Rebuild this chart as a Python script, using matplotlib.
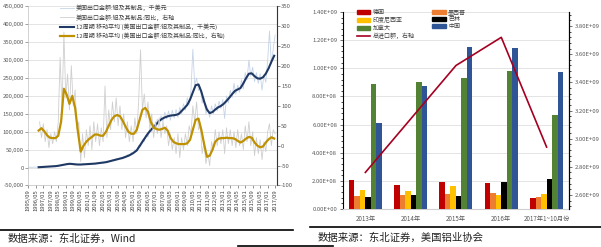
import numpy as np
import pandas as pd
import matplotlib
matplotlib.use("Agg")
import matplotlib.pyplot as plt
from matplotlib.lines import Line2D
from matplotlib.patches import Patch
from matplotlib.ticker import FuncFormatter, MultipleLocator, AutoMinorLocator

plt.rcParams["font.family"] = ["Noto Sans CJK SC", "DejaVu Sans"]
plt.rcParams["axes.unicode_minus"] = False

# ---- 左图: 美国铝及其制品出口 (月度, 1995/09 - 2017/09) ----
# 出口金额, 千美元 (每两个月读一个点, 起点 1995/09)
export_raw = [1000, 1000, 500, 1500, 1000, 2000, 1500, 2000, 1500, 3000, 2500, 3500, 3000, 4000,
              3500, 5000, 4500, 7000, 6000, 9000, 8000, 11000, 10000, 12000, 9000, 11000, 8000,
              9000, 8000, 10000, 9000, 10000, 9000, 11000, 10000, 12000, 10000, 13000, 12000,
              14000, 13000, 16000, 14000, 18000, 17000, 22000, 19000, 25000, 22000, 27000, 24000,
              30000, 27000, 36000, 33000, 42000, 38000, 50000, 45000, 62000, 58000, 78000, 72000,
              92000, 85000, 108000, 100000, 122000, 110000, 135000, 120000, 145000, 128000,
              155000, 135000, 158000, 132000, 160000, 138000, 162000, 140000, 168000, 150000,
              178000, 160000, 195000, 175000, 215000, 330000, 230000, 250000, 215000, 225000,
              180000, 195000, 150000, 165000, 140000, 172000, 150000, 178000, 158000, 185000,
              165000, 190000, 137000, 200000, 180000, 215000, 195000, 235000, 205000, 230000,
              210000, 245000, 220000, 265000, 245000, 300000, 255000, 280000, 240000, 265000,
              235000, 262000, 216000, 258000, 238000, 300000, 381000, 290000, 330000, 370000]
# 出口金额同比, % (每两个月, 起点 1996/09)
yoy_raw = [60, 20, 55, 10, 40, -5, 30, 5, 35, 10, 60, 222, 90, 285, 120, 180, 90, 201, 100, 140,
           40, 60, -40, 30, -30, 40, 0, 50, -10, 60, 10, 55, 0, 45, 10, 150, 20, 90, 40, 110,
           60, 120, 50, 100, 40, 80, 20, 60, 10, 50, 10, 70, 30, 110, 241, 90, 130, 70, 110, 40,
           80, 20, 60, 30, 70, 20, 60, 30, 50, 0, 30, -10, 20, -20, 30, -30, 20, -10, 30, 0,
           50, 30, 100, 60, 110, 40, 50, -20, 10, -45, -20, -50, 10, -10, 40, 0, 35, 5, 40, -20,
           45, 5, 40, 0, 35, -5, 40, 0, 30, -10, 50, 10, 60, 0, 35, -25, 20, -20, 15, -35, 10,
           -15, 35, 55, 0, 40, 30]
# 12周期移动平均 (每季度读一个点, 起点 1996/08)
export_ma = [1000, 1500, 2000, 2500, 3000, 3500, 4000, 5000, 6500, 8000, 9500, 10500, 10000, 9000,
             8500, 8500, 9000, 9500, 10000, 10500, 11000, 12000, 13000, 14000, 15000, 17000,
             19000, 21000, 23000, 25000, 27000, 30000, 33000, 37000, 42000, 48000, 60000, 72000,
             84000, 95000, 105000, 113000, 121000, 130000, 136000, 140000, 143000, 145000,
             146000, 147000, 150000, 158000, 166000, 175000, 190000, 210000, 230000, 232000,
             212000, 185000, 162000, 152000, 155000, 162000, 168000, 172000, 178000, 186000,
             195000, 205000, 214000, 218000, 222000, 235000, 250000, 262000, 263000, 255000,
             249000, 248000, 252000, 262000, 277000, 295000, 312000]
yoy_ma = [38, 44, 36, 26, 20, 19, 19, 25, 60, 143, 128, 105, 125, 95, 35, -15, 0, 10, 17, 22, 28,
          28, 25, 25, 35, 50, 65, 74, 77, 74, 62, 48, 35, 30, 30, 40, 65, 90, 95, 85, 60, 45, 42,
          40, 42, 45, 38, 20, 10, 6, 4, 4, 4, 6, 15, 40, 65, 68, 40, 5, -28, -25, -10, 10, 17,
          19, 19, 20, 19, 19, 17, 12, 8, 12, 18, 22, 20, 8, 0, -4, -2, 8, 16, 21, 18]

left_labels = ["美国出口金额:铝及其制品，千美元",
               "美国出口金额:铝及其制品:同比，右轴",
               "12周期 移动平均 (美国出口金额:铝及其制品，千美元)",
               "12周期 移动平均 (美国出口金额:铝及其制品:同比，右轴)"]

# ---- 右图: 美国铝进口来源 ----
years = ["2013年", "2014年", "2015年", "2016年", "2017年1~10月份"]
countries = ["德国", "墨西哥", "印度尼西亚", "巴林", "加拿大", "中国"]
imports = {
    "德国":       [2.06e8, 1.69e8, 1.90e8, 1.87e8, 0.80e8],
    "墨西哥":     [0.95e8, 1.02e8, 1.10e8, 1.16e8, 0.88e8],
    "印度尼西亚": [1.35e8, 1.30e8, 1.60e8, 0.97e8, 1.09e8],
    "巴林":       [0.83e8, 1.00e8, 0.90e8, 1.92e8, 2.11e8],
    "加拿大":     [8.87e8, 9.06e8, 9.30e8, 9.84e8, 6.69e8],
    "中国":       [6.14e8, 8.75e8, 11.50e8, 11.44e8, 9.77e8],
}
total_import = [2.76e9, 3.14e9, 3.52e9, 3.72e9, 2.94e9]

NAVY, GOLD = "#1f3864", "#bf9000"
LBLUE, LGREY = "#c5d4e8", "#cfcfcf"
bar_colors = ["#c00000", "#ed7d31", "#ffc000", "#000000", "#548235", "#2f5597"]
TXT = "#595959"

export_dates = pd.date_range("1995-09-01", periods=len(export_raw), freq="2MS")
yoy_dates = pd.date_range("1996-09-01", periods=len(yoy_raw), freq="2MS")
ma_dates = pd.date_range("1996-08-01", periods=len(export_ma), freq="3MS")
tick_dates = pd.date_range("1995-09-01", "2017-09-01", freq="8MS")

fig = plt.figure(figsize=(6.01, 2.47), dpi=100)

# ================= 左图 =================
ax = fig.add_axes([0.0466, 0.249, 0.4143, 0.7255])
ax2 = ax.twinx()
l1, = ax.plot(export_dates, export_raw, color=LBLUE, lw=0.6)
l2, = ax2.plot(yoy_dates, yoy_raw, color=LGREY, lw=0.6)
l3, = ax.plot(ma_dates, export_ma, color=NAVY, lw=1.5)
l4, = ax2.plot(ma_dates, yoy_ma, color=GOLD, lw=1.6)

ax.set_xlim(pd.Timestamp("1995-08-20"), pd.Timestamp("2017-11-01"))
ax.set_ylim(-50000, 450000)
ax.yaxis.set_major_locator(MultipleLocator(50000))
ax.yaxis.set_major_formatter(FuncFormatter(lambda v, _: "{:,.0f}".format(v)))
ax2.set_ylim(-100, 350)
ax2.yaxis.set_major_locator(MultipleLocator(50))
ax.set_xticks(tick_dates)
ax.set_xticklabels([d.strftime("%Y/%m") for d in tick_dates], rotation=90)
ax.yaxis.grid(True, color="#d9d9d9", lw=0.5)
ax.set_axisbelow(True)
ax.tick_params(axis="y", labelsize=4.3, colors=TXT, length=2, width=0.4, pad=1)
ax.tick_params(axis="x", labelsize=4.2, colors="#404040", length=2, width=0.4, pad=1)
ax2.tick_params(axis="y", labelsize=4.3, colors=TXT, length=2, width=0.5, pad=1)
for a in (ax, ax2):
    a.spines["top"].set_visible(False)
ax.spines["left"].set_color("#bfbfbf")
ax.spines["bottom"].set_color("#bfbfbf")
ax2.spines["left"].set_visible(False)
ax2.spines["bottom"].set_visible(False)
ax2.spines["right"].set_color("#404040")
ax2.spines["right"].set_linewidth(0.6)
for sp in ("left", "bottom"):
    ax.spines[sp].set_linewidth(0.5)

ax2.legend([l1, l2, l3, l4], left_labels, loc="upper left", bbox_to_anchor=(0.115, 1.025),
           frameon=False, fontsize=4.3, handlelength=2.4, handletextpad=0.35,
           labelspacing=0.45, borderpad=0, labelcolor="#404040")

# ================= 右图 =================
bx = fig.add_axes([0.5702, 0.1538, 0.377, 0.7976])
bx2 = bx.twinx()
x = np.arange(len(years))
w = 0.1214
handles = {}
for k, (name, col) in enumerate(zip(countries, bar_colors)):
    handles[name] = bx.bar(x + (k - 2.5) * w, imports[name], width=w, color=col, zorder=3)
ln, = bx2.plot(x, total_import, color="#a50021", lw=1.2)

bx.set_xlim(-0.5, len(years) - 0.5)
bx.set_ylim(0, 1.4e9)
bx.yaxis.set_major_locator(MultipleLocator(2e8))
bx.yaxis.set_minor_locator(AutoMinorLocator(5))
bx.yaxis.set_major_formatter(FuncFormatter(lambda v, _: "%.2E" % v))
bx2.set_ylim(2.5e9, 3.9e9)
bx2.yaxis.set_major_locator(MultipleLocator(2e8))
bx2.yaxis.set_minor_locator(AutoMinorLocator(5))
bx2.yaxis.set_major_formatter(FuncFormatter(lambda v, _: "%.2E" % v))
bx.set_xticks(x)
bx.set_xticklabels(years)
bx.yaxis.grid(True, color="#d9d9d9", lw=0.5)
bx.set_axisbelow(True)
bx.tick_params(axis="x", labelsize=4.5, colors=TXT, length=0, pad=4)
for a in (bx, bx2):
    a.tick_params(axis="y", which="major", labelsize=4.3, colors=TXT, length=2.5, width=0.6, pad=1.5)
    a.tick_params(axis="y", which="minor", length=1.5, width=0.5)
    a.spines["top"].set_visible(False)
bx.spines["left"].set_color("#000000")
bx.spines["left"].set_linewidth(0.8)
bx.spines["bottom"].set_color("#d0d0d0")
bx2.spines["right"].set_color("#000000")
bx2.spines["right"].set_linewidth(0.8)
bx2.spines["left"].set_visible(False)
bx2.spines["bottom"].set_visible(False)

leg_order = ["德国", "印度尼西亚", "加拿大", None, "墨西哥", "巴林", "中国"]
leg_h, leg_l = [], []
for name in leg_order:
    if name is None:
        leg_h.append(ln)
        leg_l.append("总进口额，右轴")
    else:
        leg_h.append(Patch(color=bar_colors[countries.index(name)]))
        leg_l.append(name)
bx2.legend(leg_h, leg_l, ncol=2, loc="upper left", bbox_to_anchor=(0.05, 1.03), frameon=False,
           fontsize=4.3, handlelength=2.2, handleheight=0.6, handletextpad=0.4,
           labelspacing=0.35, columnspacing=3.0, borderpad=0, labelcolor="#404040")

# ---- 数据来源 ----
fig.add_artist(Line2D([0, 293 / 601], [1 - 230 / 247] * 2, color="black", lw=1.2))
fig.add_artist(Line2D([310 / 601, 1], [1 - 227 / 247] * 2, color="black", lw=1.2))
fig.add_artist(Line2D([238 / 601, 333 / 601], [1 - 245.5 / 247] * 2, color="black", lw=1.2))
fig.text(8 / 601, 1 - 239 / 247, "数据来源：东北证券，Wind", fontsize=7.5, va="center", color="#222222")
fig.text(318 / 601, 1 - 238 / 247, "数据来源：东北证券，美国铝业协会", fontsize=7.5, va="center",
         color="#222222")

fig.savefig("out.png", dpi=100)
